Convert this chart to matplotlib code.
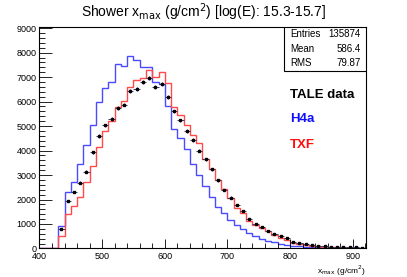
import numpy as np
import matplotlib
matplotlib.use("Agg")
import matplotlib.pyplot as plt
from matplotlib.ticker import MultipleLocator

plt.rcParams['font.family'] = ['Liberation Sans', 'DejaVu Sans']

bin_edges_start = 400
bin_width = 10
n_bins = 52

h4a = [0, 0, 0,
       920, 2300, 2730, 3450, 4220, 5030, 6000, 6550, 6790, 7550,
       7470, 7870, 7680, 7400, 7400, 6780, 6700, 5820, 4880, 4500,
       4070, 3450, 3020, 2560, 2100, 1700, 1430, 1160, 940, 810,
       650, 510, 390, 320, 250, 200, 160, 120, 95, 75,
       55, 45, 35, 25, 20, 15, 10, 10, 5]

txf = [0, 0, 0,
       520, 1400, 1740, 2090, 2730, 3380, 4160, 4790, 5200, 5780,
       6020, 6590, 6900, 6950, 7270, 6990, 7200, 6770, 5790, 5440,
       5040, 4640, 4300, 3660, 3260, 2780, 2420, 2070, 1660, 1460,
       1120, 970, 830, 700, 560, 440, 360, 230, 200, 150,
       120, 100, 80, 60, 50, 40, 30, 25, 20]

tale = [0, 0, 0,
        780, 1940, 2310, 2690, 3130, 3930, 4590, 5030, 5290, 5740,
        5880, 6450, 6510, 6790, 6970, 6590, 6720, 6180, 5600, 5230,
        4800, 4430, 4000, 3640, 3240, 2780, 2390, 2080, 1780, 1540,
        1190, 1000, 870, 720, 600, 490, 420, 270, 230, 180,
        140, 120, 100, 80, 70, 50, 40, 40, 30]

stats_labels = ["Entries", "Mean", "RMS"]
stats_values = ["135874", "586.4", "79.87"]
legend_labels = ["TALE data", "H4a", "TXF"]
legend_colors = ["black", "#1010ff", "#ff1010"]

edges = bin_edges_start + bin_width * np.arange(n_bins + 1)
centers = edges[:-1] + bin_width / 2

fig = plt.figure(figsize=(4.07, 2.77), dpi=100)
ax = fig.add_axes([0.097, 0.103, 0.802, 0.799])

ax.stairs(h4a, edges, color='#4a4aff', lw=1.0)
ax.stairs(txf, edges, color='#ff4a4a', lw=1.0)

tale_arr = np.array(tale, dtype=float)
mask = tale_arr > 0
ax.errorbar(centers[mask], tale_arr[mask], xerr=bin_width / 2,
            yerr=np.sqrt(tale_arr[mask]), fmt='s', color='black',
            ecolor='#3a3a66', elinewidth=0.7, markersize=1.6, capsize=0)

ax.set_xlim(400, 921)
ax.set_ylim(0, 9040)

ax.xaxis.set_major_locator(MultipleLocator(100))
ax.xaxis.set_minor_locator(MultipleLocator(20))
ax.yaxis.set_major_locator(MultipleLocator(1000))
ax.yaxis.set_minor_locator(MultipleLocator(200))
ax.tick_params(which='both', direction='in', labelsize=6.5, width=0.6)
ax.tick_params(axis='y', which='major', length=9, pad=2)
ax.tick_params(axis='y', which='minor', length=4.5)
ax.tick_params(axis='x', which='major', length=6.5, pad=2.5)
ax.tick_params(axis='x', which='minor', length=3.5)
for s in ax.spines.values():
    s.set_linewidth(0.8)

fig.text(0.5, 0.955, r"Shower x$_{\mathrm{max}}$ (g/cm$^{2}$) [log(E): 15.3-15.7]",
         ha='center', va='center', fontsize=10)

ax.text(1.0, -0.07, r"x$_{\mathrm{max}}$ (g/cm$^{2}$)", transform=ax.transAxes,
        ha='right', va='top', fontsize=6)

# stats box
bx0, by0 = 0.748, 0.80
box = plt.Rectangle((bx0, by0), 1.0 - bx0, 1.0 - by0, transform=ax.transAxes,
                    facecolor='white', edgecolor='black', lw=0.8, zorder=5)
ax.add_patch(box)
for i, (lab, val) in enumerate(zip(stats_labels, stats_values)):
    yy = 0.968 - i * 0.066
    ax.text(bx0 + 0.02, yy, lab, transform=ax.transAxes, ha='left', va='center',
            fontsize=7, zorder=6)
    ax.text(0.985, yy, val, transform=ax.transAxes, ha='right', va='center',
            fontsize=7, zorder=6)

leg_y = [0.695, 0.585, 0.468]
for lab, col, yy in zip(legend_labels, legend_colors, leg_y):
    ax.text(0.768, yy, lab, transform=ax.transAxes, ha='left', va='center',
            fontsize=9.5, fontweight='bold', color=col)

fig.savefig("out.png", dpi=100)
